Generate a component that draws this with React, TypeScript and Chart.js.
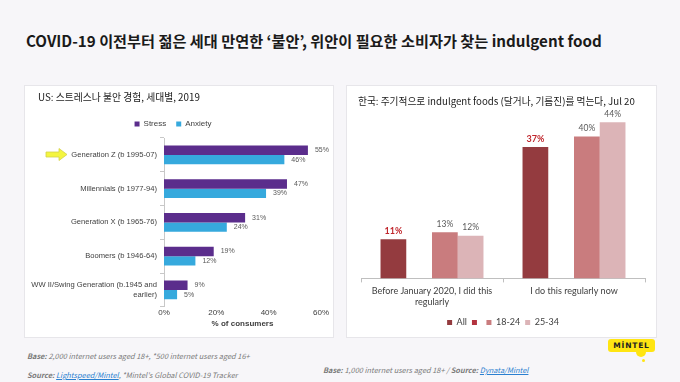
import React, { useEffect, useRef } from "react";
import { Chart, registerables } from "chart.js";

Chart.register(...registerables);

// ---------- Data: left chart (US) ----------
const genCategories: (string | string[])[] = [
  "Generation Z (b 1995-07)",
  "Millennials (b 1977-94)",
  "Generation X (b 1965-76)",
  "Boomers (b 1946-64)",
  ["WW II/Swing Generation (b.1945 and", "earlier)"],
];
const stressValues = [55, 47, 31, 19, 9];
const anxietyValues = [46, 39, 24, 12, 5];
const usSeriesNames = ["Stress", "Anxiety"];
const usTickStep = 20;
const usMax = 60;

// ---------- Data: right chart (Korea) ----------
const krCategories: (string | string[])[] = [
  ["Before January 2020, I did this", "regularly"],
  "I do this regularly now",
];
const krSeriesNames = ["All", "", "18-24", "25-34"];
const allValues = [11, 37];
const blankValues: (number | null)[] = [null, null];
const age1824Values = [13, 40];
const age2534Values = [12, 44];

const GRAY_TEXT = "#404040";

const labelPlugin = {
  id: "valueLabels",
  afterDatasetsDraw(chart: any, _args: any, opts: any) {
    const ctx = chart.ctx;
    const horizontal = chart.options.indexAxis === "y";
    chart.data.datasets.forEach((ds: any, di: number) => {
      const meta = chart.getDatasetMeta(di);
      if (meta.hidden) return;
      meta.data.forEach((el: any, i: number) => {
        const v = ds.data[i];
        if (v === null || v === undefined) return;
        const style = (opts.styles && opts.styles[di]) || {};
        ctx.save();
        ctx.font = style.font || "8px 'Liberation Sans', Arial, sans-serif";
        ctx.fillStyle = style.color || "#595959";
        if (horizontal) {
          ctx.textAlign = "left";
          ctx.textBaseline = "middle";
          ctx.fillText(v + "%", el.x + (opts.offset || 6), el.y);
        } else {
          ctx.textAlign = "center";
          ctx.textBaseline = "bottom";
          ctx.fillText(v + "%", el.x, el.y - (opts.offset || 5));
        }
        ctx.restore();
      });
    });
  },
};

function USChart() {
  const ref = useRef<HTMLCanvasElement>(null);
  useEffect(() => {
    if (!ref.current) return;
    const chart = new Chart(ref.current, {
      type: "bar",
      data: {
        labels: genCategories,
        datasets: [
          {
            label: usSeriesNames[0],
            data: stressValues,
            backgroundColor: "#5b2d8c",
            categoryPercentage: 0.56,
            barPercentage: 1,
          },
          {
            label: usSeriesNames[1],
            data: anxietyValues,
            backgroundColor: "#36a9dd",
            categoryPercentage: 0.56,
            barPercentage: 1,
          },
        ],
      },
      options: {
        indexAxis: "y",
        responsive: false,
        animation: false,
        layout: { padding: { top: 24, right: 12, bottom: 8, left: 0 } },
        scales: {
          x: {
            min: 0,
            max: usMax,
            ticks: {
              stepSize: usTickStep,
              callback: (v: any) => v + "%",
              font: { size: 8, family: "'Liberation Sans', Arial, sans-serif" },
              color: GRAY_TEXT,
              padding: 1,
            },
            grid: { display: false, drawTicks: false, tickLength: 0 },
            border: { display: false },
            title: {
              display: true,
              text: "% of consumers",
              font: { size: 8, weight: "bold", family: "'Liberation Sans', Arial, sans-serif" },
              color: GRAY_TEXT,
              padding: { top: 1, bottom: 0 },
            },
          },
          y: {
            afterFit: (s: any) => {
              s.width = 139;
            },
            ticks: {
              font: { size: 7.6, family: "'Liberation Sans', Arial, sans-serif" },
              color: GRAY_TEXT,
              padding: 3,
            },
            grid: {
              display: true,
              drawOnChartArea: false,
              tickLength: 4,
              color: "#c8c8c8",
            },
            border: { color: "#c8c8c8" },
          },
        },
        plugins: {
          legend: {
            position: "top",
            labels: {
              boxWidth: 5,
              boxHeight: 5,
              padding: 10,
              font: { size: 8, family: "'Liberation Sans', Arial, sans-serif" },
              color: GRAY_TEXT,
            },
          },
          tooltip: { enabled: false },
          valueLabels: {
            offset: 7,
            styles: [
              { font: "7px 'Liberation Sans', Arial, sans-serif", color: "#595959" },
              { font: "7px 'Liberation Sans', Arial, sans-serif", color: "#595959" },
            ],
          },
        },
      } as any,
      plugins: [labelPlugin],
    });
    return () => chart.destroy();
  }, []);
  return <canvas ref={ref} width={308} height={251} style={{ display: "block" }} />;
}

function KRChart() {
  const ref = useRef<HTMLCanvasElement>(null);
  useEffect(() => {
    if (!ref.current) return;
    const mk = (label: string, data: (number | null)[], color: string) => ({
      label,
      data,
      backgroundColor: color,
      categoryPercentage: 0.725,
      barPercentage: 1,
    });
    const chart = new Chart(ref.current, {
      type: "bar",
      data: {
        labels: krCategories,
        datasets: [
          mk(krSeriesNames[0], allValues, "#943b3f"),
          mk(krSeriesNames[1], blankValues, "#b3333f"),
          mk(krSeriesNames[2], age1824Values, "#c97c7e"),
          mk(krSeriesNames[3], age2534Values, "#dcb4b7"),
        ],
      },
      options: {
        responsive: false,
        animation: false,
        layout: { padding: { top: 15, right: 11, bottom: 0, left: 14 } },
        scales: {
          y: { display: false, min: 0, max: 50 },
          x: {
            afterFit: (s: any) => {
              s.height += 3;
            },
            ticks: {
              font: { size: 9, family: "Lato, 'Liberation Sans', sans-serif" },
              color: GRAY_TEXT,
              padding: 3,
            },
            grid: {
              display: true,
              drawOnChartArea: false,
              tickLength: 4,
              color: "#bfbfbf",
            },
            border: { color: "#bfbfbf" },
          },
        },
        plugins: {
          legend: {
            position: "bottom",
            labels: {
              boxWidth: 5,
              boxHeight: 5,
              padding: 5,
              font: { size: 9, family: "Lato, 'Liberation Sans', sans-serif" },
              color: GRAY_TEXT,
            },
          },
          tooltip: { enabled: false },
          valueLabels: {
            offset: 4,
            styles: [
              { font: "bold 9px Lato, 'Liberation Sans', sans-serif", color: "#c0272d" },
              {},
              { font: "8.5px Lato, 'Liberation Sans', sans-serif", color: "#595959" },
              { font: "8.5px Lato, 'Liberation Sans', sans-serif", color: "#595959" },
            ],
          },
        },
      } as any,
      plugins: [labelPlugin],
    });
    return () => chart.destroy();
  }, []);
  return <canvas ref={ref} width={309} height={251} style={{ display: "block" }} />;
}

const KR = "'Noto Sans CJK KR', 'Noto Sans', sans-serif";

const footStyle: React.CSSProperties = {
  position: "absolute",
  fontSize: 7.4,
  fontStyle: "italic",
  color: "#7a7a7a",
  whiteSpace: "nowrap",
};

export default function App() {
  return (
    <div
      style={{
        position: "fixed",
        left: 0,
        top: 0,
        width: 680,
        height: 382,
        background: "#f7f6f9",
        overflow: "hidden",
        fontFamily: KR,
      }}
    >
      <div
        style={{
          position: "absolute",
          left: 26,
          top: 29,
          fontSize: 15.2,
          fontWeight: 700,
          color: "#1a1a1a",
          whiteSpace: "nowrap",
        }}
      >
        COVID-19 이전부터 젊은 세대 만연한 ‘불안’, 위안이 필요한 소비자가 찾는 indulgent food
      </div>

      {/* Left panel */}
      <div
        style={{
          position: "absolute",
          left: 25,
          top: 86,
          width: 308,
          height: 251,
          background: "#fff",
          boxShadow: "0 0 0 1px #e7e6ea",
        }}
      >
        <div style={{ position: "absolute", left: 0, top: 0 }}>
          <USChart />
        </div>
        <div
          style={{
            position: "absolute",
            left: 13,
            top: 4,
            fontSize: 9.8,
            color: "#1a1a1a",
            whiteSpace: "nowrap",
          }}
        >
          US: 스트레스나 불안 경험, 세대별, 2019
        </div>
        <svg
          style={{ position: "absolute", left: 20, top: 61 }}
          width={24}
          height={16}
          viewBox="0 0 24 16"
        >
          <polygon
            points="1,5 14,5 14,1.5 22,7.5 14,13.5 14,10 1,10"
            fill="#f4f53f"
            stroke="#d3d24a"
            strokeWidth={0.8}
          />
        </svg>
      </div>

      {/* Right panel */}
      <div
        style={{
          position: "absolute",
          left: 347,
          top: 86,
          width: 309,
          height: 251,
          background: "#fff",
          boxShadow: "0 0 0 1px #e7e6ea",
        }}
      >
        <div style={{ position: "absolute", left: 0, top: 0 }}>
          <KRChart />
        </div>
        <div
          style={{
            position: "absolute",
            left: 11,
            top: 8,
            fontSize: 9.7,
            color: "#1a1a1a",
            whiteSpace: "nowrap",
          }}
        >
          한국: 주기적으로 indulgent foods (달거나, 기름진)를 먹는다, Jul 20
        </div>
      </div>

      {/* Footers */}
      <div style={{ ...footStyle, left: 27, top: 350 }}>
        <b>Base:</b> 2,000 internet users aged 18+, *500 internet users aged 16+
      </div>
      <div style={{ ...footStyle, left: 27, top: 369 }}>
        <b>Source:</b>{" "}
        <span style={{ color: "#2a7fd0", textDecoration: "underline" }}>Lightspeed/Mintel</span>,
        *Mintel's Global COVID-19 Tracker
      </div>
      <div style={{ ...footStyle, left: 323, top: 364 }}>
        <b>Base:</b> 1,000 internet users aged 18+ / <b>Source:</b>{" "}
        <span style={{ color: "#2a7fd0", textDecoration: "underline" }}>Dynata/Mintel</span>
      </div>

      {/* Logo */}
      <div
        style={{
          position: "absolute",
          left: 608,
          top: 339,
          width: 47,
          height: 13,
          background: "#ffe512",
          borderRadius: 3,
          fontFamily: "'DejaVu Sans', sans-serif",
          fontWeight: 700,
          fontSize: 7.5,
          letterSpacing: 0.8,
          color: "#222",
          textAlign: "center",
          lineHeight: "13px",
        }}
      >
        MİNTEL
      </div>
      <div
        style={{
          position: "absolute",
          left: 636,
          top: 350,
          width: 10,
          height: 7,
          background: "#ffe512",
          borderRadius: "0 0 5px 5px",
        }}
      />
      <div
        style={{
          position: "absolute",
          left: 642,
          top: 359,
          width: 3,
          height: 3,
          background: "#ffe512",
          borderRadius: 2,
        }}
      />
    </div>
  );
}
